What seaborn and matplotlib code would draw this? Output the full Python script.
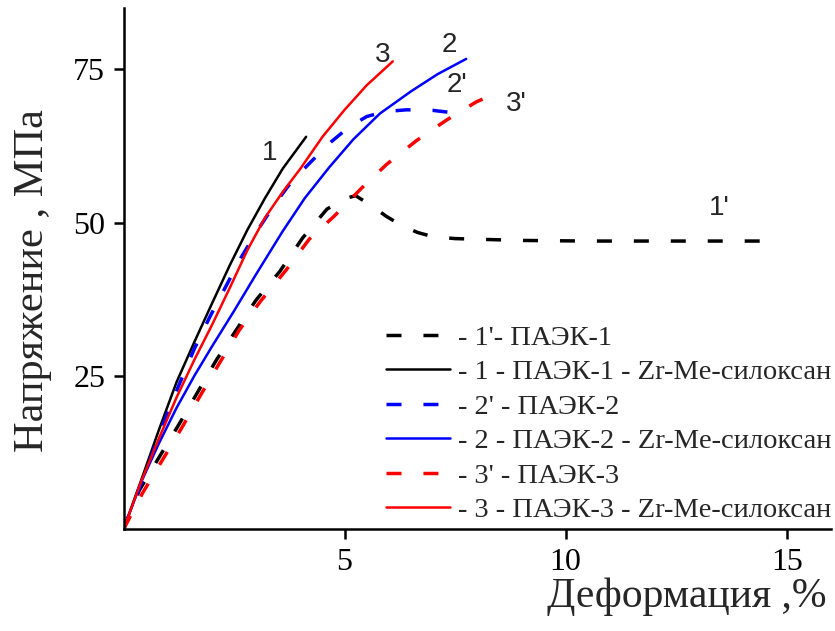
import matplotlib
matplotlib.use("Agg")
import matplotlib.pyplot as plt
import seaborn as sns
import pandas as pd

# ---- data ----
x1p = [0, 0.36, 0.81, 1.27, 1.68, 2.1, 2.55, 3.0, 3.53, 4.05, 4.6, 5.0, 5.25, 5.6, 5.95, 6.3, 6.65, 7.0, 7.5, 8.0, 9.0, 10.5, 12.0, 13.5, 14.7]
y1p = [0, 6.4, 11.8, 17.3, 22.4, 27.6, 32.5, 37.4, 42.0, 47.5, 52.2, 53.9, 54.4, 52.8, 51.0, 49.5, 48.4, 47.7, 47.4, 47.3, 47.1, 47.0, 47.0, 47.0, 47.0]

x1 = [0, 0.4, 0.8, 1.2, 1.6, 2.0, 2.4, 2.8, 3.2, 3.6, 4.13]
y1 = [0, 8.0, 16.2, 24.0, 30.5, 36.8, 43.0, 48.8, 54.0, 58.8, 64.0]

x2p = [0, 0.44, 0.89, 1.27, 1.6, 1.95, 2.3, 2.65, 3.0, 3.4, 3.8, 4.25, 4.7, 5.1, 5.5, 5.9, 6.4, 7.0, 7.6]
y2p = [0, 8.2, 17.0, 23.8, 29.4, 34.6, 39.4, 44.2, 48.4, 52.8, 56.7, 60.0, 63.2, 65.6, 67.3, 68.1, 68.4, 68.3, 67.8]

x2 = [0, 0.4, 0.8, 1.2, 1.6, 2.0, 2.5, 3.0, 3.6, 4.1, 4.65, 5.2, 5.8, 6.5, 7.1, 7.75]
y2 = [0, 7.7, 14.0, 19.8, 25.0, 29.8, 35.6, 41.6, 48.6, 54.0, 59.0, 63.6, 67.8, 71.4, 74.2, 76.7]

x3p = [0, 0.43, 0.88, 1.33, 1.72, 2.17, 2.62, 3.1, 3.68, 4.2, 4.77, 5.38, 5.95, 6.63, 7.3, 7.98, 8.3]
y3p = [0, 5.9, 11.3, 16.7, 21.6, 27.1, 32.5, 37.2, 42.3, 47.3, 51.1, 55.6, 59.5, 63.4, 66.7, 69.7, 70.7]

x3 = [0, 0.4, 0.8, 1.2, 1.6, 2.0, 2.4, 2.8, 3.2, 3.6, 4.0, 4.5, 5.0, 5.5, 6.09]
y3 = [0, 7.8, 14.8, 21.5, 27.6, 33.3, 39.3, 45.5, 50.8, 55.0, 58.8, 64.0, 68.4, 72.4, 76.3]

legend_labels = ["- 1'- ПАЭК-1",
                 "- 1 - ПАЭК-1 - Zr-Me-силоксан",
                 "- 2' - ПАЭК-2",
                 "- 2 - ПАЭК-2 - Zr-Me-силоксан",
                 "- 3' - ПАЭК-3",
                 "- 3 - ПАЭК-3 - Zr-Me-силоксан"]
xticks = [5, 10, 15]
yticks = [25, 50, 75]
xlabel = "Деформация ,%"
ylabel = "Напряжение , МПа"

# ---- style ----
sns.set_style("ticks")
plt.rcParams['font.family'] = ['Liberation Serif', 'DejaVu Serif']
plt.rcParams['lines.scale_dashes'] = False

fig = plt.figure(figsize=(8.35, 6.31), dpi=100)
ax = fig.add_axes([123.5/835, 1 - 529.3/631, (831 - 123.5)/835, (529.3 - 8)/631])

series = [(x1p, y1p, 'black', True),
          (x1, y1, 'black', False),
          (x2p, y2p, '#0000ff', True),
          (x2, y2, '#0000ff', False),
          (x3p, y3p, '#ff0000', True),
          (x3, y3, '#ff0000', False)]

for (xs, ys, col, dashed), lab in zip(series, legend_labels):
    df = pd.DataFrame({"x": xs, "y": ys})
    line_kw = dict(lw=2.5, dashes=(10.8, 15.8)) if dashed else dict(lw=1.8)
    sns.lineplot(data=df, x="x", y="y", ax=ax, color=col, label=lab,
                 sort=False, estimator=None, **line_kw)

ax.set_xlim(0, 16)
ax.set_ylim(0, 85)
ax.set_xticks(xticks)
ax.set_yticks(yticks)
ax.tick_params(axis='both', direction='out', length=7.2, width=1.8,
               labelsize=23, pad=6, colors='black')
for s in ['top', 'right']:
    ax.spines[s].set_visible(False)
for s in ['left', 'bottom']:
    ax.spines[s].set_linewidth(1.8)
    ax.spines[s].set_color('black')

ax.set_xlabel(xlabel, fontsize=30)
ax.set_ylabel(ylabel, fontsize=30.5)
ax.xaxis.set_label_coords(0.796, -0.093)
ax.yaxis.set_label_coords(-0.101, 0.478)

# curve annotations
lab_pos = {"1": (3.30, 61.4), "3": (5.85, 77.4), "2": (7.36, 78.9),
           "2'": (7.53, 72.4), "3'": (8.88, 69.3), "1'": (13.48, 52.4)}
for k, (xx, yy) in lab_pos.items():
    ax.text(xx, yy, k, fontsize=20, family=['Liberation Sans', 'DejaVu Sans'],
            ha='center', va='center')

leg = ax.legend(loc='lower right', bbox_to_anchor=(1.0, 0.012), frameon=False,
                fontsize=20.5, handlelength=2.25, handletextpad=0.25,
                labelspacing=0.3, borderaxespad=0, borderpad=0)

fig.savefig("out.png", dpi=100)
